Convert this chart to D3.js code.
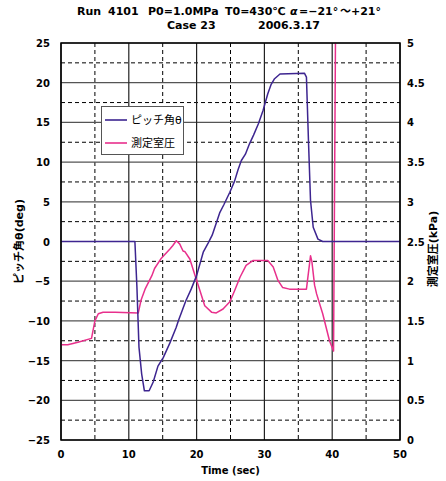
<!DOCTYPE html>
<html>
<head>
<meta charset="utf-8">
<script src="https://cdn.jsdelivr.net/npm/d3@7"></script>
<style>
  html, body { margin: 0; padding: 0; background: #fff; }
  svg text { font-family: "DejaVu Sans", "Noto Sans CJK JP", sans-serif; font-weight: bold; fill: #000; }
</style>
</head>
<body>
<svg id="chart" width="446" height="481"></svg>
<script>
// Pitch angle (deg) versus time (sec)
const pitchTime  = [0, 10.9, 11.2, 11.5, 11.9, 12.3, 13.0, 13.6, 14.3, 15.1, 16.05, 17.0, 17.3, 18.4, 19.2, 20.0, 21.0, 21.7, 22.3, 23.4, 24.0, 24.9, 25.6, 26.1, 26.6, 27.2, 27.8, 28.4, 29.1, 29.8, 30.5, 31.0, 31.5, 32.3, 35.9, 36.2, 36.5, 36.8, 37.2, 37.9, 38.6, 50];
const pitchAngle = [0, 0, -5.8, -13.3, -16.7, -18.8, -18.8, -17.7, -15.7, -14.6, -12.8, -10.8, -10.0, -7.5, -6.0, -4.3, -1.3, -0.2, 0.8, 3.6, 4.6, 6.2, 7.6, 9.0, 10.2, 11.0, 12.3, 13.4, 14.8, 16.5, 18.6, 19.8, 20.5, 21.1, 21.2, 20.7, 12.7, 5.2, 1.8, 0.3, 0, 0];

// Measured chamber pressure (kPa) versus time (sec)
const pressTime = [0, 1.0, 2.5, 4.5, 5.0, 5.5, 6.2, 8.0, 11.4, 11.8, 12.4, 13.4, 13.8, 14.8, 16.1, 16.5, 17.0, 17.5, 18.0, 18.3, 19.0, 19.7, 20.5, 21.2, 22.2, 22.9, 23.9, 24.9, 25.6, 26.4, 27.3, 28.3, 30.5, 31.3, 32.0, 32.7, 33.7, 36.2, 36.8, 37.0, 37.4, 37.7, 38.2, 38.6, 39.1, 39.6, 40.2, 40.55];
const pressure  = [1.20, 1.20, 1.23, 1.28, 1.50, 1.59, 1.61, 1.61, 1.60, 1.76, 1.90, 2.07, 2.16, 2.29, 2.41, 2.45, 2.51, 2.47, 2.38, 2.37, 2.28, 2.09, 1.88, 1.69, 1.61, 1.60, 1.65, 1.74, 1.88, 2.05, 2.20, 2.26, 2.26, 2.18, 2.01, 1.92, 1.90, 1.90, 2.32, 2.25, 1.95, 1.84, 1.70, 1.59, 1.42, 1.25, 1.12, 6.0];

const leftTicks  = [25, 20, 15, 10, 5, 0, -5, -10, -15, -20, -25];
const rightTicks = [5, 4.5, 4, 3.5, 3, 2.5, 2, 1.5, 1, 0.5, 0];
const timeTicks  = [0, 10, 20, 30, 40, 50];
const minorAngle = [22.5, 17.5, 12.5, 7.5, 2.5, -2.5, -7.5, -12.5, -17.5, -22.5];
const minorTime  = [5, 15, 25, 35, 45];

// title pieces: [text, x]
const titleLine1 = [["Run", 77], ["4101", 108], ["P0=1.0MPa", 148], ["T0=430\u2103", 225], ["\u03b1", 290], ["=\u221221\u00b0", 299], ["\uff5e+21\u00b0", 340]];
const titleLine2 = [["Case 23", 167], ["2006.3.17", 258]];
const seriesNames = ["ピッチ角θ", "測定室圧"];
const colors = ["#3d2590", "#e8308c"];

const svg = d3.select("#chart");
const m = { left: 61, right: 400, top: 43, bottom: 440 };

const x  = d3.scaleLinear().domain([0, 50]).range([m.left, m.right]);
const yL = d3.scaleLinear().domain([-25, 25]).range([m.bottom, m.top]);
const yR = d3.scaleLinear().domain([0, 5]).range([m.bottom, m.top]);

const fmt = v => (v < 0 ? "\u2212" + Math.abs(v) : String(v));

// grid
const grid = svg.append("g");
grid.selectAll(".hm").data(minorAngle).join("line")
  .attr("x1", m.left).attr("x2", m.right)
  .attr("y1", d => yL(d)).attr("y2", d => yL(d))
  .attr("stroke", "#000").attr("stroke-width", 1).attr("stroke-dasharray", "4,3");
grid.selectAll(".vm").data(minorTime).join("line")
  .attr("y1", m.top).attr("y2", m.bottom)
  .attr("x1", d => x(d)).attr("x2", d => x(d))
  .attr("stroke", "#000").attr("stroke-width", 1).attr("stroke-dasharray", "4,3");
grid.selectAll(".hM").data(leftTicks).join("line")
  .attr("x1", m.left).attr("x2", m.right)
  .attr("y1", d => yL(d)).attr("y2", d => yL(d))
  .attr("stroke", "#555").attr("stroke-width", 1.2);
grid.selectAll(".vM").data(timeTicks).join("line")
  .attr("y1", m.top).attr("y2", m.bottom)
  .attr("x1", d => x(d)).attr("x2", d => x(d))
  .attr("stroke", "#222").attr("stroke-width", 1.2);

// data lines
svg.append("clipPath").attr("id", "plotclip").append("rect")
  .attr("x", m.left).attr("y", m.top).attr("width", m.right - m.left).attr("height", m.bottom - m.top);

const plot = svg.append("g").attr("clip-path", "url(#plotclip)");
const pitchLine = d3.line().x((d, i) => x(pitchTime[i])).y(d => yL(d));
const pressLine = d3.line().x((d, i) => x(pressTime[i])).y(d => yR(d));
plot.append("path").datum(pressure).attr("d", pressLine)
  .attr("fill", "none").attr("stroke", colors[1]).attr("stroke-width", 1.5).attr("stroke-linejoin", "round");
plot.append("path").datum(pitchAngle).attr("d", pitchLine)
  .attr("fill", "none").attr("stroke", colors[0]).attr("stroke-width", 1.5).attr("stroke-linejoin", "round");

// frame
svg.append("rect").attr("x", m.left).attr("y", m.top)
  .attr("width", m.right - m.left).attr("height", m.bottom - m.top)
  .attr("fill", "none").attr("stroke", "#000").attr("stroke-width", 1.5);

// axes labels
svg.selectAll(".lt").data(leftTicks).join("text")
  .attr("x", 50).attr("y", d => yL(d) + 4)
  .attr("text-anchor", "end").attr("font-size", 10).text(fmt);
svg.selectAll(".rt").data(rightTicks).join("text")
  .attr("x", 407).attr("y", d => yR(d) + 4)
  .attr("text-anchor", "start").attr("font-size", 10).text(d => String(d));
svg.selectAll(".bt").data(timeTicks).join("text")
  .attr("x", d => x(d)).attr("y", 458)
  .attr("text-anchor", "middle").attr("font-size", 10).text(d => String(d));

svg.append("text").attr("x", x(25)).attr("y", 474).attr("text-anchor", "middle")
  .attr("font-size", 10).text("Time (sec)");
svg.append("text").attr("transform", `translate(23,${(m.top + m.bottom) / 2}) rotate(-90)`)
  .attr("text-anchor", "middle").attr("font-size", 11).text("ピッチ角θ(deg)");
svg.append("text").attr("transform", `translate(437,249) rotate(-90)`)
  .attr("text-anchor", "middle").attr("font-size", 11).text("測定室圧(kPa)");

// title
svg.selectAll(".t1").data(titleLine1).join("text")
  .attr("x", d => d[1]).attr("y", 15).attr("font-size", 11)
  .style("font-style", d => d[0] === "\u03b1" ? "italic" : "normal")
  .text(d => d[0]);
svg.selectAll(".t2").data(titleLine2).join("text")
  .attr("x", d => d[1]).attr("y", 29).attr("font-size", 11)
  .text(d => d[0]);

// legend
const lg = svg.append("g");
lg.append("rect").attr("x", 101.5).attr("y", 106.5).attr("width", 82).attr("height", 48)
  .attr("fill", "#fff").attr("stroke", "#555").attr("stroke-width", 1);
seriesNames.forEach((name, i) => {
  const yy = 120 + i * 23;
  lg.append("line").attr("x1", 105).attr("x2", 127).attr("y1", yy).attr("y2", yy)
    .attr("stroke", colors[i]).attr("stroke-width", 1.6);
  lg.append("text").attr("x", 131).attr("y", yy + 4).attr("font-size", 11)
    .style("font-weight", "normal").text(name);
});
</script>
</body>
</html>
